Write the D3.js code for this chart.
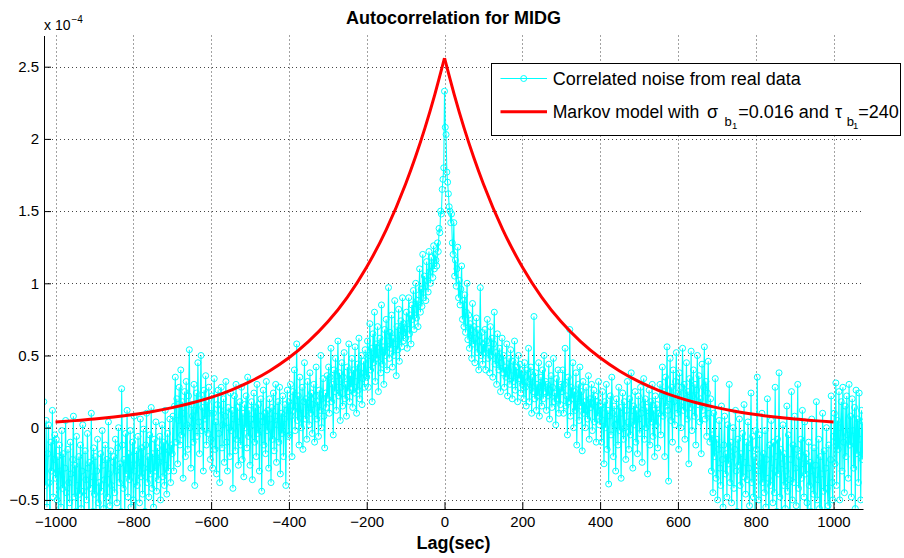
<!DOCTYPE html>
<html>
<head>
<meta charset="utf-8">
<script src="https://cdn.jsdelivr.net/npm/d3@7"></script>
<style>
  body { margin: 0; background: #fff; }
  text { font-family: "Liberation Sans", Arial, Helvetica, sans-serif; }
</style>
</head>
<body>
<svg id="chart" width="904" height="558"></svg>
<script>
// autocorrelation of the noise, units of 1e-6, one value every 2 s of lag
var lagStep = 2;
// lags -1030 .. -2
var acfNeg = [
    18, -25, -40, 5, -55, -18, 2, -38, -62, -10, -30, 12, -48, -22, -5,
    -35, -8, -50, -20, -66, -12, -30, -55, -2, -42,
    -18, -60, -28, 5, -45, -70, -15, -38, -52, -10,
    -32, -64, -22, 8, -48, -26, -58, -6, -40, -72,
    -20, -46, -12, -56, -30, 2, -44, -62, -16, -36,
    -50, -4, -28, -68, -24, -42, 10, -34, -58, -14,
    -46, -20, -60, -30, -8, -52, -38, -75, -18, -44,
    -2, -26, -56, -36, -12, -64, -22, -48, 4, -32,
    -54, -16, -40, -60, -24,
    -20, -45, -8, -30, -52, -14, 0, -38, -25, -58,
    27, -12, -42, -22, -60, -4, -32, 12, -48, -18,
    -36, -2, -55, -26, -10, -50, 8, -30, -64, -16,
    -40, -6, -24, -52, 6, -34, -14, -46, -1, -28,
    -58, -12, 10, -38, -20, -48, -5, -32, 14, -42,
    -18, -55, -8, -30, 4, -44, -14, -36, -24, -6,
    -50, -20, 2, -34, -10, -40, 12, -26, -46, -4,
    -30, -16, 6, -38, -12,
    -18, 8, -30, 15, 35, -10, 20, -25, 5, 28,
    -12, 40, -5, 18, -35, 10, 25, -20, 32, 2,
    -15, 22, 54, 0, -28, 16, 8, -10, 30, -40,
    12, 24, -6, 45, 4, -18, 20, 50, -2, 14,
    -30, 26, 6, 36, -12, 18, -4, 28, 10, -22,
    -8, 22, -28, 10, 34, -15, 4, -32, 16, 26,
    -4, -38, 12, 28, -14, 2, 20, -24, 8, 32,
    -10, -30, 14, 0, -20, 24, -2, 12, -42, 6,
    22, -16, 30, -8, 14, -26, 4, 18, -12, 28,
    -22, 10, -34, 16, 0, 22, -14, 35, -6, 12,
    -26, 6, 18, -36, 2, 24, -10, 14, -20, 30,
    -4, 16, -30, 8, 20, -44, 4, 26, -12, 10,
    -18, 32, -2, 12, -28, 20, 6, -38, 14, -8,
    24, -16, 8, 30, -24, 2, 18, -10, 28, -32,
    10, -4, 22, -20, 6, 16, -40, 12, 26, -6,
    18, -5, 30, 8, -20, 25, 12, 40, -2, 15,
    58, 5, 22, -12, 35, 10, 0, 28, -15, 18,
    45, 6, 20, -8, 32, 14, 2, 38, 10, 24,
    -4, 16, 30, -10, 22, 42, 6, 18, -6, 26,
    12, 50, 0, 20, 34, 8, -14, 24, 14, 36,
    20, 42, 10, 35, 55, 18, 30, -5, 40, 25,
    48, 12, 32, 60, 22, 38, 5, 28, 45, 15,
    35, 52, 20, 30, 8, 42, 25, 58, 18, 36,
    28, 48, 14, 40, 24, 56, 32, 10, 44, 26,
    62, 20, 38, 50, 16, 34, 46, 28, 54, 36,
    35, 60, 28, 50, 72, 40, 55, 18, 65, 45,
    80, 32, 58, 48, 70, 25, 52, 62, 38, 85,
    44, 56, 30, 68, 50, 75, 40, 60, 97, 48,
    66, 55, 78, 42, 62, 50, 88, 58, 36, 70,
    54, 82, 46, 64, 74, 56, 90, 60, 72, 66,
    62, 80, 55, 72, 90, 65, 78, 58, 85, 75,
    95, 68, 82, 100, 76, 88, 70, 92, 110, 80,
    96, 84, 120, 90, 105, 98, 88, 115, 102, 94,
    122, 108, 100, 118, 112, 104, 126, 110, 120, 116,
    112, 128, 122, 138, 135, 150, 148, 165, 172, 180
];
var acfZero = 233;
// lags 2 .. 1076
var acfPos = [
    208, 203, 177, 170, 162, 153, 150, 142, 148, 128,
    120, 142, 105, 116, 98, 110, 125, 90, 102, 85,
    96, 112, 75, 88, 70, 92, 66, 80, 100, 61,
    78, 55, 72, 64, 48, 86, 58, 70, 45, 62,
    76, 52, 68, 40, 60, 97, 50, 66, 44, 58,
    52, 68, 40, 60, 75, 48, 55, 38, 70, 50,
    62, 35, 58, 80, 44, 52, 30, 65, 48, 40,
    55, 25, 45, 62, 38, 50, 28, 42, 35, 58,
    22, 40, 48, 30, 54, 36, 20, 46, 32, 60,
    26, 42, 38, 18, 50, 34, 44, 24, 40, 30,
    38, 20, 45, 28, 15, 40, 32, 55, 18, 30,
    42, 10, 35, 25, 77, 20, 38, 12, 30, 22,
    45, 8, 28, 35, 15, 40, 20, 50, 25, 32,
    12, 30, 22, 44, 6, 26, 36, 14, 28, 48,
    18, 24, 2, 34, 20, 40, 10, 28, 16, 30,
    25, 40, 10, 30, 55, 15, 22, -5, 35, 18,
    68, 8, 28, 20, 45, 0, 25, 12, 38, -12,
    20, 30, 5, 42, 15, 25, -16, 32, 10, 18,
    0, 28, 12, 6, 36, -8, 20, 14, 30, -2,
    16, 26, 4, 22, -10, 18, 8, 32, 2, 12,
    15, -10, 25, 5, -25, 18, 0, 30, -15, 12,
    -39, 8, 22, -5, 35, 10, -20, 15, 2, -30,
    20, 6, -12, 28, -2, 14, -35, 10, 24, -8,
    18, 0, -22, 12, 32, 4, -15, 20, -5, 38,
    8, -28, 15, 2, 25, -10, 12, -18, 22, 6,
    -4, 28, 10, -24, 16, 34, -8, 20, 0, 14,
    -32, 8, 26, -12, 18, 4, 30, -6, 12, -20,
    22, 2, 16, -14, 10,
    10, 30, -5, 22, 42, 8, 25, -20, 35, 15,
    56, 12, -37, 20, 48, 5, 28, -10, 40, 18,
    2, 32, 52, 10, 24, -15, 38, 15, 0, 28,
    55, 12, 30, -8, 20, 45, 6, 25, -25, 34,
    14, 53, -2, 22, 40, 8, 30, -12, 26, 50,
    16, 36, 4, 20, -18, 44, 12, 28, 56, 6,
    32, -6, 24, 46, 10,
    -10, 20, -30, -5, -45, 10, -20, 34, -35, -8,
    -50, -15, 5, -28, -40, 15, -22, -55, -12, 8,
    -32, -18, -48, 2, -25, 30, -38, -10, -52, -20,
    0, -42, -15, 12, -30, -58, -8, -26, 6, -40,
    -18, -62, -4, -34, 16, -24, -46, -10, -36, 4,
    -28, -54, -14, 24, -38, -6, -48, -20, -60, -2,
    -15, 35, -30, -50, -5, -25, -60, 10, -38, -18,
    -45, -2, -55, -22, 20, -35, -65, -12, -40, 5,
    -28, -52, -10, -45, 28, -20, -58, -8, -32, 38,
    -48, -15, -62, -25, 2, -40, -18, -56, -30, 15,
    -44, -5, -36, -70, -22, 25, -50, -12, -38, 8,
    -28, -54, -15, 30, -42, -20, -60, -8, -35, 12,
    -25, -48, 4, -32, -18, -52, -68, -10, -40, -24,
    -58, 6, -30, -46, -14, -64, -26, 18, -50, -36,
    -8, -56, -20, -72, -32, 10, -44, -16, -60, -28,
    0, -42, -54, -12, -66, -22, 22, -38, -50, -6,
    10, -25, 31, -40, 5, -15, 25, -50, 0, 18,
    -30, 28, -10, -45, 15, -20, 22, -5, -35, 30,
    -12, 8, -48, 20, -2, -28, 14, -56, 26, -18,
    6, -38, 24, -8, -50, 12, -22, 4
];

// first order Markov model, units of 1e-4
var markovLags = [-1000, -950, -900, -850, -800, -750, -700, -650, -600, -550,
    -500, -450, -400, -350, -300, -250, -200, -150, -100, -75, -50, -25, 0,
    25, 50, 75, 100, 150, 200, 250, 300, 350, 400, 450, 500, 550, 600, 650,
    700, 750, 800, 850, 900, 950, 1000];
var markovVals = [0.040, 0.049, 0.060, 0.074, 0.091, 0.112, 0.139, 0.171, 0.210, 0.259,
    0.319, 0.393, 0.484, 0.596, 0.733, 0.903, 1.113, 1.370, 1.688, 1.873, 2.078, 2.307, 2.56,
    2.307, 2.078, 1.873, 1.688, 1.370, 1.113, 0.903, 0.733, 0.596, 0.484, 0.393, 0.319, 0.259, 0.210, 0.171,
    0.139, 0.112, 0.091, 0.074, 0.060, 0.049, 0.040];

var xTicks = [-1000, -800, -600, -400, -200, 0, 200, 400, 600, 800, 1000];
var yTicks = [-0.5, 0, 0.5, 1, 1.5, 2, 2.5];

var titleText = "Autocorrelation for MIDG";
var xLabel = "Lag(sec)";
var legendNoise = "Correlated noise from real data";

function chart() {
    var svg = d3.select("#chart"),
        margin = { top: 35.5, right: 41, bottom: 49, left: 44 },
        width = +svg.attr("width"),
        height = +svg.attr("height");

    var x = d3.scaleLinear()
        .domain([-1029.6, 1075.8])
        .range([margin.left, width - margin.right]);
    var y = d3.scaleLinear()
        .domain([-0.563, 2.716])
        .range([height - margin.bottom, margin.top]);

    // build the series
    var noise = [];
    acfNeg.forEach(function (v, i) {
        noise.push([-(acfNeg.length - i) * lagStep, v / 100]);
    });
    noise.push([0, acfZero / 100]);
    acfPos.forEach(function (v, i) {
        noise.push([(i + 1) * lagStep, v / 100]);
    });
    var markov = markovLags.map(function (l, i) { return [l, markovVals[i]]; });

    var fmt = function (d) { return d < 0 ? "\u2212" + Math.abs(d) : String(d); };

    svg.append("defs").append("clipPath").attr("id", "plotclip")
        .append("rect")
        .attr("x", margin.left).attr("y", margin.top)
        .attr("width", width - margin.right - margin.left)
        .attr("height", height - margin.bottom - margin.top);

    // grid
    var grid = svg.append("g")
        .attr("stroke", "#444")
        .attr("stroke-width", 1)
        .attr("stroke-dasharray", "1,3");
    grid.selectAll("line.gx").data(xTicks).enter().append("line")
        .attr("x1", function (d) { return Math.round(x(d)) + 0.5; })
        .attr("x2", function (d) { return Math.round(x(d)) + 0.5; })
        .attr("y1", margin.top)
        .attr("y2", height - margin.bottom);
    grid.selectAll("line.gy").data(yTicks).enter().append("line")
        .attr("y1", function (d) { return Math.round(y(d)) + 0.5; })
        .attr("y2", function (d) { return Math.round(y(d)) + 0.5; })
        .attr("x1", margin.left)
        .attr("x2", width - margin.right);

    var plot = svg.append("g").attr("clip-path", "url(#plotclip)");

    // noise
    plot.append("path")
        .datum(noise)
        .attr("fill", "none")
        .attr("stroke", "#00ffff")
        .attr("stroke-width", 1.1)
        .attr("d", d3.line()
            .x(function (d) { return x(d[0]); })
            .y(function (d) { return y(d[1]); }));
    plot.append("g")
        .selectAll("circle")
        .data(noise)
        .enter().append("circle")
        .attr("cx", function (d) { return x(d[0]); })
        .attr("cy", function (d) { return y(d[1]); })
        .attr("r", 3)
        .attr("fill", "none")
        .attr("stroke", "#00ffff")
        .attr("stroke-width", 1);

    // markov model, two halves so the peak stays sharp
    var mline = d3.line()
        .curve(d3.curveMonotoneX)
        .x(function (d) { return x(d[0]); })
        .y(function (d) { return y(d[1]); });
    [markov.filter(function (d) { return d[0] <= 0; }),
     markov.filter(function (d) { return d[0] >= 0; })].forEach(function (half) {
        plot.append("path")
            .datum(half)
            .attr("fill", "none")
            .attr("stroke", "#ff0000")
            .attr("stroke-width", 3)
            .attr("d", mline);
    });

    // axes
    var gx = svg.append("g")
        .attr("transform", "translate(0," + (height - margin.bottom) + ")")
        .call(d3.axisBottom(x).tickValues(xTicks).tickFormat(fmt)
            .tickSizeInner(-7).tickSizeOuter(0).tickPadding(7));
    var gy = svg.append("g")
        .attr("transform", "translate(" + margin.left + ",0)")
        .call(d3.axisLeft(y).tickValues(yTicks).tickFormat(fmt)
            .tickSizeInner(-7).tickSizeOuter(0).tickPadding(5));
    [gx, gy].forEach(function (g) {
        g.selectAll("text").attr("font-size", 15).attr("fill", "#000")
            .attr("font-family", "Liberation Sans, Arial, sans-serif");
        g.selectAll("line").attr("stroke", "#000");
        g.select(".domain").attr("stroke", "#000");
    });

    // exponent
    var ex = svg.append("text").attr("x", margin.left).attr("y", 29.5).attr("font-size", 14);
    ex.append("tspan").text("x 10");
    ex.append("tspan").attr("font-size", 10).attr("dy", -7).attr("dx", 1).text("\u22124");

    // title and label
    svg.append("text")
        .attr("x", (margin.left + width - margin.right) / 2)
        .attr("y", 23.5)
        .attr("text-anchor", "middle")
        .attr("font-weight", "bold")
        .attr("font-size", 18)
        .text(titleText);
    svg.append("text")
        .attr("x", (margin.left + width - margin.right) / 2)
        .attr("y", 548.5)
        .attr("text-anchor", "middle")
        .attr("font-weight", "bold")
        .attr("font-size", 18)
        .text(xLabel);

    // legend
    var lg = svg.append("g");
    lg.append("rect")
        .attr("x", 491.5).attr("y", 63.5)
        .attr("width", 409).attr("height", 72)
        .attr("fill", "#fff").attr("stroke", "#000").attr("stroke-width", 1);
    lg.append("line")
        .attr("x1", 500.5).attr("x2", 547).attr("y1", 78.5).attr("y2", 78.5)
        .attr("stroke", "#00ffff").attr("stroke-width", 1.1);
    lg.append("circle")
        .attr("cx", 523.7).attr("cy", 78.5).attr("r", 3)
        .attr("fill", "none").attr("stroke", "#00ffff");
    lg.append("text").attr("x", 552.7).attr("y", 84.5).attr("font-size", 18).text(legendNoise);
    lg.append("line")
        .attr("x1", 500.5).attr("x2", 547).attr("y1", 111.7).attr("y2", 111.7)
        .attr("stroke", "#ff0000").attr("stroke-width", 3);
    var row = [
        { t: "Markov model with", x: 552.7, s: 17.6, dy: 0 },
        { t: "\u03c3", x: 707, s: 18, dy: 0 },
        { t: "b", x: 724.5, s: 13, dy: 7.4 },
        { t: "1", x: 732, s: 9.5, dy: 10.7 },
        { t: "=0.016 and", x: 738.3, s: 18, dy: 0 },
        { t: "\u03c4", x: 835, s: 18, dy: 0 },
        { t: "b", x: 846.7, s: 13, dy: 7.4 },
        { t: "1", x: 853, s: 9.5, dy: 10.7 },
        { t: "=240", x: 858.3, s: 18, dy: 0 }
    ];
    lg.selectAll("text.m").data(row).enter().append("text")
        .attr("x", function (d) { return d.x; })
        .attr("y", function (d) { return 118.3 + d.dy; })
        .attr("font-size", function (d) { return d.s; })
        .text(function (d) { return d.t; });
}

chart();
</script>
</body>
</html>
